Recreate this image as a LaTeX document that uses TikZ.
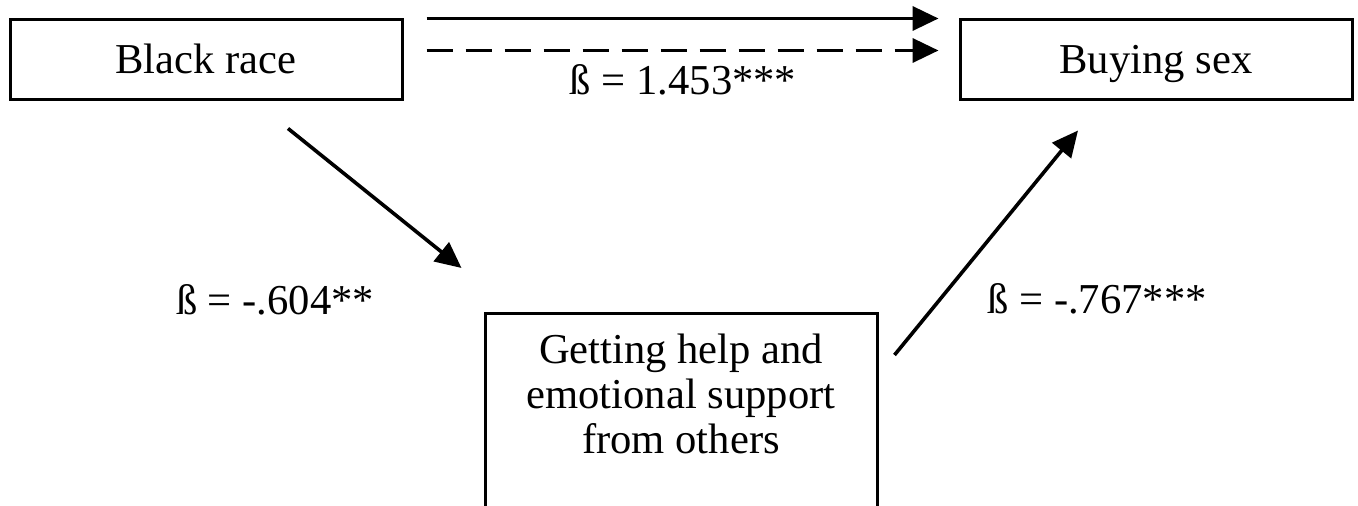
\documentclass[tikz,border=0pt]{standalone}
\usepackage{fontspec}
\setmainfont{Liberation Serif}
\usetikzlibrary{arrows.meta}
\usetikzlibrary{positioning}

\tikzset{
	box/.style={draw, line width=1.5pt, minimum width=196pt, minimum height=40pt, inner sep=0pt, text height=18.5pt, text depth=4.5pt, font=\fontsize{21.3}{22.5}\selectfont},
	arr/.style={line width=1.8pt, -{Triangle[length=13pt,width=12pt]}},
	coef/.style={font=\fontsize{21.3}{22.5}\selectfont}
}

\begin{document}
\begin{tikzpicture}[x=0.5pt,y=-0.5pt]
		\useasboundingbox (0,0) rectangle (1358,506);
		\clip (0,0) rectangle (1358,506);

		\node[box](race) at (206,60){Black race};
		\node[box](sex) at (1156,60){Buying sex};

		\node[box, align=center, anchor=north, inner sep=10pt, text height=, text depth=85pt](help) at (681,312){Getting help and\\emotional support\\from others};

		\node[coef](c0) at (683,80){ß = 1.453***};
		\node[coef](c1) at (275,300){ß = -.604**};
		\node[coef](c2) at (1097,299){ß = -.767***};

		\draw[arr] ([xshift=11.5pt]race.north east) -- ([xshift=-10pt]sex.north west);
		\draw[arr, dash pattern=on 13pt off 6.5pt] ([xshift=11.5pt,yshift=-16pt]race.north east) -- ([xshift=-10pt,yshift=-16pt]sex.north west);
		\draw[arr] ([shift={(82,27)}]race.south) -- ([shift={(-22,-44)}]help.north west);
		\draw[arr] ([shift={(16,43)}]help.north east) -- ([shift={(-78,29)}]sex.south);
	\end{tikzpicture}
\end{document}
